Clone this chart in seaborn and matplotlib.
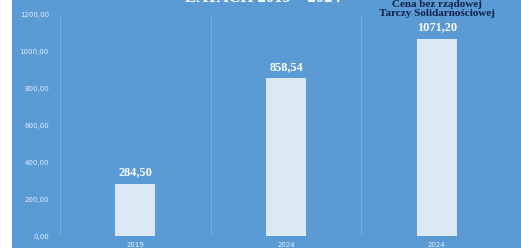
import numpy as np
import pandas as pd
import matplotlib
matplotlib.use("Agg")
import matplotlib.pyplot as plt
from matplotlib.patches import Rectangle
import seaborn as sns

years = ["2019", "2024", "2024 "]
tick_labels = ["2019", "2024", "2024"]
prices = [284.50, 858.54, 1071.20]
value_labels = ["284,50", "858,54", "1071,20"]
note = "Cena bez rządowej\nTarczy Solidarnościowej"
title = "LATACH 2019 – 2024"

bg = "#5b9bd5"
bar_col = "#dce7f4"
line_col = "#7fb0df"

sns.set_theme(style="white")
plt.rcParams["font.family"] = ["DejaVu Sans"]
serif = ["Liberation Serif", "DejaVu Serif"]

df = pd.DataFrame({"rok": years, "cena": prices})

fig = plt.figure(figsize=(5.21, 2.48), dpi=100)
fig.patch.set_facecolor(bg)
# white strip on the left edge
fig.patches.append(Rectangle((0, 0), 12 / 521, 1, transform=fig.transFigure,
                             facecolor="white", edgecolor="none"))
ax = fig.add_axes([60 / 521, 1 - 236 / 248, 452 / 521, 221 / 248])
ax.set_facecolor(bg)

sns.barplot(data=df, x="rok", y="cena", color=bar_col, width=0.265,
            saturation=1, linewidth=0, ax=ax, zorder=3)

ax.set_ylim(0, 1200)
ax.set_xlim(-0.5, 2.5)
ax.set_yticks(np.arange(0, 1201, 200))
ax.set_yticklabels([f"{v:.2f}".replace(".", ",") for v in np.arange(0, 1201, 200)],
                   fontsize=5, color="#e4eefa")
ax.set_xticks(range(len(tick_labels)))
ax.set_xticklabels(tick_labels, fontsize=5, color="#e4eefa")
ax.tick_params(axis="both", length=0)
ax.tick_params(axis="x", pad=4)
ax.tick_params(axis="y", pad=8)
ax.set_xlabel("")
ax.set_ylabel("")
for s in ax.spines.values():
    s.set_visible(False)
ax.axhline(0, color=line_col, lw=0.8, zorder=2)
for xv in [-0.5, 0.5, 1.5, 2.5]:
    ax.axvline(xv, color=line_col, lw=0.6, zorder=1)

for i, (v, lab) in enumerate(zip(prices, value_labels)):
    ax.annotate(lab, (i, v), xytext=(0, 8), textcoords="offset points",
                ha="center", va="center", fontsize=8.8, fontweight="bold",
                color="white", family=serif)

ax.annotate(note, (2, 1071.20), xytext=(0, 21.5), textcoords="offset points",
            ha="center", va="center", fontsize=8, fontweight="bold",
            color="#0d1f4a", family=serif, linespacing=1.05,
            annotation_clip=False)

fig.text(263 / 521, 1 + 2 / 248, title, ha="center", va="center", fontsize=12,
         fontweight="bold", color="white", family=serif)

fig.savefig("out.png", dpi=100, facecolor=fig.get_facecolor())
